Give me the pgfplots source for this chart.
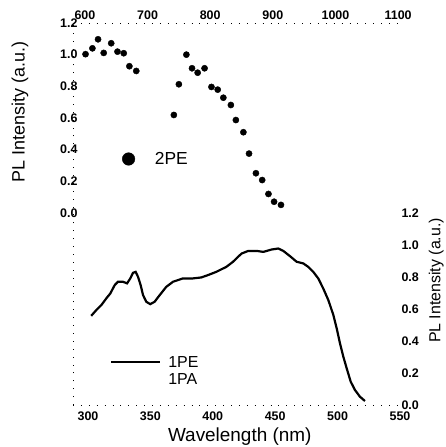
\documentclass[border=0pt]{standalone}
\usepackage{fontspec}
\setmainfont{Liberation Sans}
\usepackage{pgfplots}
\pgfplotsset{compat=1.18}

\pgfplotsset{
  scan/.style={
    width=327bp, height=382bp, scale only axis,
    at={(0,0)}, anchor=south west, clip=false,
    axis line style={-, black, line width=0.9bp, dash pattern=on 0.9bp off 7bp},
    tick style={draw=none},
    tick label style={font=\fontsize{12.5}{15}\selectfont\bfseries},
    /pgf/number format/assume math mode=true,
    yticklabel style={/pgf/number format/fixed,
      /pgf/number format/fixed zerofill, /pgf/number format/precision=1},
    xticklabel style={/pgf/number format/1000 sep={}},
    ytick={0,0.2,0.4,0.6,0.8,1.0,1.2},
  },
}

\begin{document}
\begin{tikzpicture}
\useasboundingbox (-73bp,-42bp) rectangle (373bp,405bp);

% upper half: two-photon excitation, top / left scales
\begin{axis}[scan,
    xmin=581, xmax=1103, ymin=-1.213, ymax=1.2,
    axis x line*=top, axis y line*=left,
    xtick={600,700,800,900,1000,1100},
    yticklabel style={xshift=8bp},
    ylabel={PL Intensity (a.u.)},
    every axis y label/.style={at={(axis description cs:-0.162,0.767)},
      anchor=center, rotate=90, font=\fontsize{18}{21}\selectfont},
    legend style={at={(axis description cs:0.141,0.644)}, anchor=west,
      draw=none, fill=none, font=\fontsize{17.5}{21}\selectfont,
      /tikz/every odd column/.append style={column sep=18bp}},
    legend image post style={mark size=6.3bp},
]
\addplot[only marks, mark=*, mark size=3.1bp, black] coordinates {
  (601,1.003) (612,1.040) (621,1.097) (630,1.011) (642,1.072)
  (652,1.019) (662,1.009) (671,0.927) (682,0.897)
  (742,0.619) (750,0.813) (762,1.000) (771,0.914) (780,0.886)
  (791,0.914) (802,0.796) (812,0.779) (821,0.728) (833,0.682)
  (841,0.587) (853,0.510) (862,0.375) (873,0.251) (883,0.208)
  (893,0.120) (902,0.071) (913,0.051)
};
\addlegendentry{2PE}
\end{axis}

% lower half: one-photon excitation, bottom / right scales
\begin{axis}[scan,
    xmin=288, xmax=550, ymin=0, ymax=2.39,
    axis x line*=bottom, axis y line*=right,
    y axis line style={draw=none},
    xtick={300,350,400,450,500,550},
    xticklabel style={yshift=-3bp},
    yticklabel style={xshift=-2bp},
    xlabel={Wavelength (nm)},
    every axis x label/.style={at={(axis description cs:0.51,-0.084)},
      anchor=center, font=\fontsize{19}{22}\selectfont},
    ylabel={PL Intensity (a.u.)},
    every axis y label/.style={at={(axis description cs:1.111,0.326)},
      anchor=center, rotate=90, font=\fontsize{16}{19}\selectfont},
    legend style={at={(axis description cs:0.104,0.139)}, anchor=north west,
      draw=none, fill=none, font=\fontsize{16}{19}\selectfont,
      legend cell align=left, row sep=1bp,
      /tikz/every odd column/.append style={column sep=5bp}},
    legend image code/.code={\draw[#1] (0bp,0bp) -- (49bp,0bp);},
]
\addplot[black, line width=2.2pt] coordinates {
  (302.6,0.558) (306.7,0.594) (310.7,0.625) (314.7,0.667) (317.9,0.698)
  (321.4,0.750) (324.0,0.771) (328.0,0.771) (331.3,0.761) (333.9,0.792)
  (336.1,0.827) (338.2,0.833) (340.1,0.802) (342.2,0.750) (344.1,0.688)
  (346.7,0.646) (349.9,0.631) (353.4,0.646) (357.5,0.688) (362.7,0.739)
  (368.1,0.771) (376.1,0.792) (384.1,0.792) (390.8,0.798) (396.2,0.813)
  (402.8,0.833) (410.8,0.864) (416.2,0.896) (420.2,0.927) (423.2,0.948)
  (428.4,0.964) (435.2,0.964) (440.5,0.958) (447.2,0.973) (452.5,0.979)
  (456.5,0.964) (461.9,0.931) (467.2,0.896) (472.5,0.886) (476.5,0.864)
  (480.5,0.833) (484.5,0.792) (488.5,0.729) (492.6,0.656) (496.6,0.563)
  (499.3,0.479) (501.9,0.386) (504.6,0.302) (507.3,0.229) (510.5,0.146)
  (513.9,0.094) (517.9,0.052) (521.9,0.025)
};
\addlegendentry{1PE}
\addlegendimage{draw opacity=0}
\addlegendentry{1PA}
\end{axis}
\end{tikzpicture}
\end{document}
